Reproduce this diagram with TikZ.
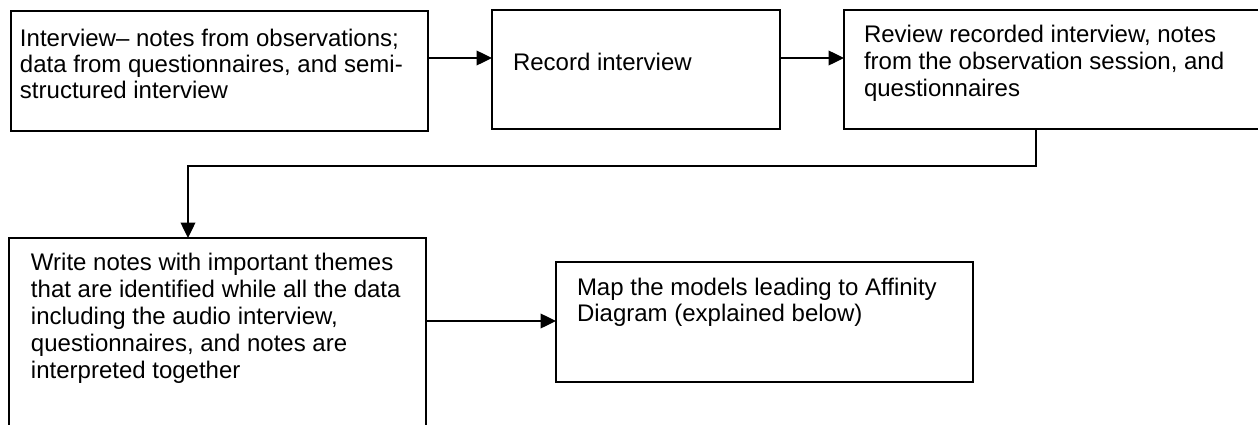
\documentclass[tikz,border=0pt]{standalone}
\usepackage{fontspec}
\setmainfont{Liberation Sans}
\usetikzlibrary{arrows.meta}
\tikzset{
  box/.style={draw=black, line width=1pt, rectangle, inner sep=0pt, outer sep=0pt, anchor=north west},
  txt/.style={inner sep=0pt, outer sep=0pt, anchor=base west, font=\fontsize{18}{20}\selectfont},
  arr/.style={line width=1pt, -{Triangle[length=11.5pt, width=11pt]}},
  conn/.style={line width=1pt}
}
\begin{document}
\begin{tikzpicture}[x=0.75pt, y=-0.75pt]
\useasboundingbox (0,0) rectangle (1258,425);
\clip (0,0) rectangle (1258,425);
% boxes
\node[box, minimum width=417*0.75pt, minimum height=120*0.75pt] (b1) at (11,11) {};
\node[box, minimum width=288*0.75pt, minimum height=119*0.75pt] (b2) at (492,10) {};
\node[box, minimum width=440*0.75pt, minimum height=119*0.75pt] (b3) at (844,10) {};
\node[box, minimum width=417*0.75pt, minimum height=220*0.75pt] (b4) at (9,238) {};
\node[box, minimum width=417*0.75pt, minimum height=120*0.75pt] (b5) at (556,262) {};
% texts
\node[txt] (t1) at (20,46) {\parbox[t]{400pt}{\baselineskip=19.5pt Interview– notes from observations;\\ data from questionnaires, and semi-\\ structured interview}};
\node[txt] (t2) at (513,70) {Record interview};
\node[txt] (t3) at (864,42) {\parbox[t]{400pt}{\baselineskip=20.25pt Review recorded interview, notes\\ from the observation session, and\\ questionnaires}};
\node[txt] (t4) at (31,270) {\parbox[t]{400pt}{\baselineskip=20.25pt Write notes with important themes\\ that are identified while all the data\\ including the audio interview,\\ questionnaires, and notes are\\ interpreted together}};
\node[txt] (t5) at (577,295) {\parbox[t]{400pt}{\baselineskip=19.5pt Map the models leading to Affinity\\ Diagram (explained below)}};
% connectors
\coordinate (r1) at (0,58);
\coordinate (r2) at (0,321);
\coordinate (k1) at (1036,166);
\coordinate (k2) at (188,166);
\draw[arr] (b1.east |- r1) -- (b2.west |- r1);
\draw[arr] (b2.east |- r1) -- (b3.west |- r1);
\draw[arr] (b3.south -| k1) -- (k1) -- (k2) -- (b4.north -| k2);
\draw[arr] (b4.east |- r2) -- (b5.west |- r2);
\end{tikzpicture}
\end{document}
